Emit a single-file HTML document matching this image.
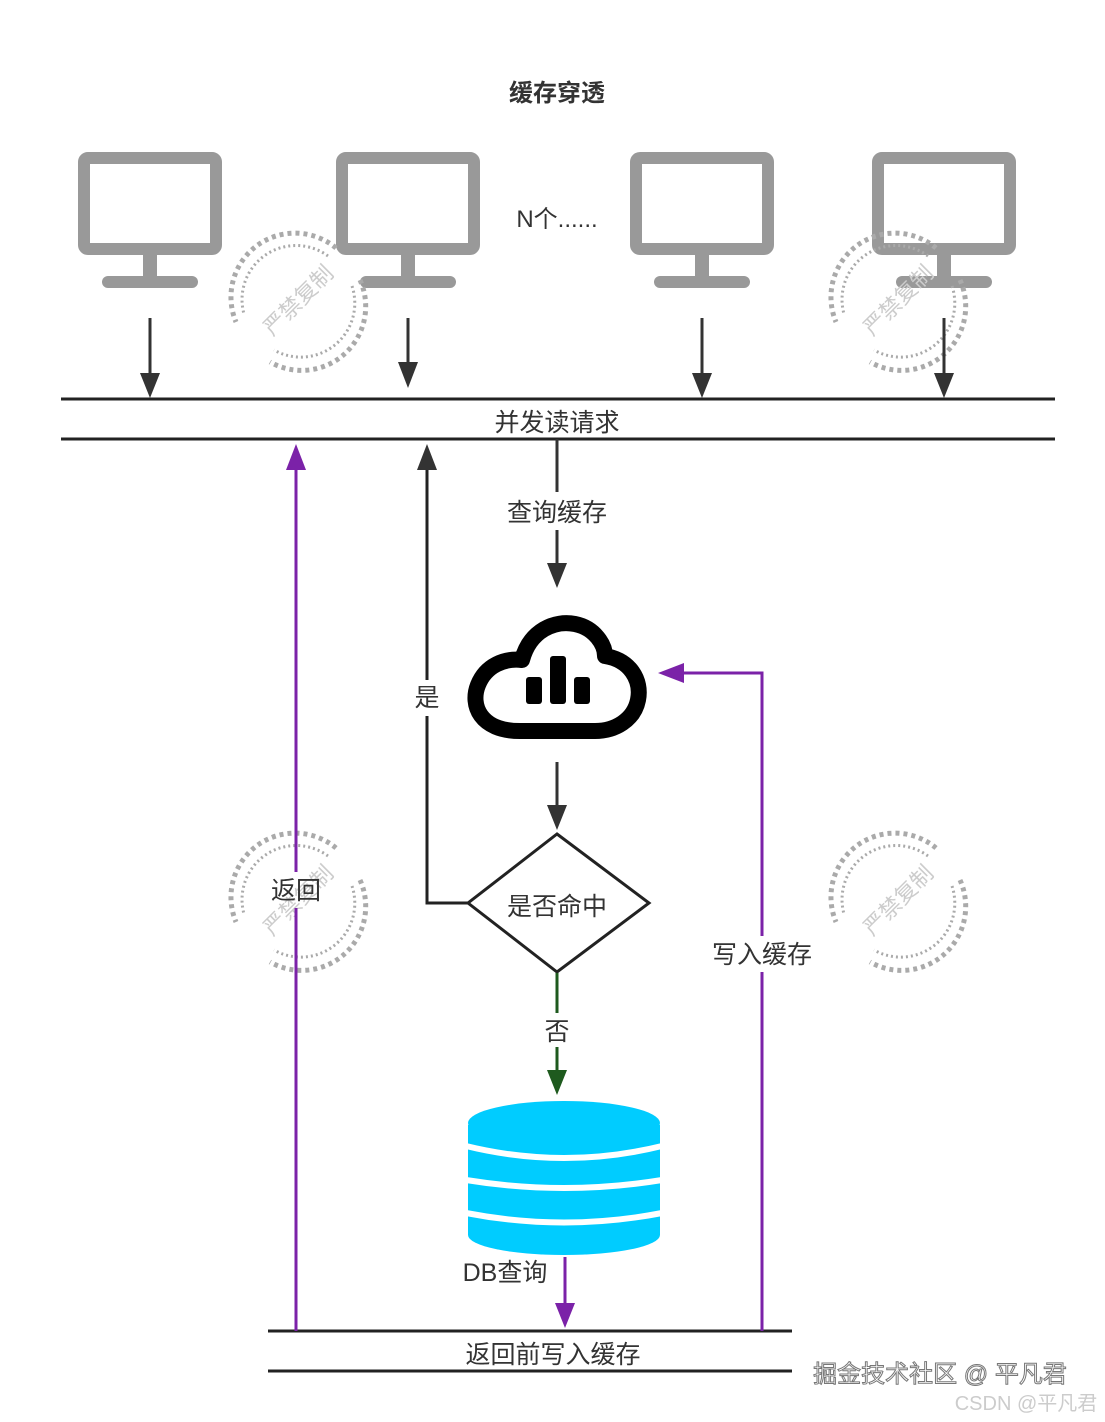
<!DOCTYPE html>
<html><head><meta charset="utf-8"><style>
html,body{margin:0;padding:0;background:#fff;}
svg{display:block;}
text{font-family:"Liberation Sans","Noto Sans CJK SC",sans-serif;}
</style></head><body>
<svg width="1105" height="1422" viewBox="0 0 1105 1422" xmlns="http://www.w3.org/2000/svg">
<defs>
<g id="mon">
<rect x="6" y="6" width="132" height="91" rx="4" fill="#fff" stroke="#999" stroke-width="12"/>
<rect x="65" y="103" width="14" height="24" fill="#999"/>
<rect x="24" y="124" width="96" height="12" rx="6" fill="#999"/>
</g>
<g id="wm" fill="none" stroke="#aaa">
<path d="M38,-52 A64,64 0 0,0 -62,22" stroke-width="5" stroke-dasharray="4 4"/>
<path d="M62,-20 A64,64 0 0,1 -28,62" stroke-width="5" stroke-dasharray="4 4"/>
<path d="M30,-44 A54,54 0 0,0 -54,14" stroke-width="3" stroke-dasharray="2 3"/>
<path d="M54,-14 A54,54 0 0,1 -24,50" stroke-width="3" stroke-dasharray="2 3"/>
<text x="0" y="8" transform="rotate(-45)" text-anchor="middle" font-size="22" fill="#ccc" stroke="none">严禁复制</text>
</g>
</defs>

<text x="557" y="101" text-anchor="middle" font-size="24" font-weight="bold" fill="#333">缓存穿透</text>

<use href="#mon" x="78" y="152"/>
<use href="#mon" x="336" y="152"/>
<use href="#mon" x="630" y="152"/>
<use href="#mon" x="872" y="152"/>
<text x="557" y="227" text-anchor="middle" font-size="24" fill="#333">N个......</text>

<use href="#wm" x="298" y="300"/>
<use href="#wm" x="898" y="300"/>
<use href="#wm" x="298" y="900"/>
<use href="#wm" x="898" y="900"/>

<g stroke="#333" stroke-width="3" fill="#333">
<line x1="150" y1="318" x2="150" y2="378"/><polygon points="140,373 160,373 150,398" stroke="none"/>
<line x1="408" y1="318" x2="408" y2="366"/><polygon points="398,362 418,362 408,388" stroke="none"/>
<line x1="702" y1="318" x2="702" y2="378"/><polygon points="692,373 712,373 702,398" stroke="none"/>
<line x1="944" y1="318" x2="944" y2="378"/><polygon points="934,373 954,373 944,398" stroke="none"/>
</g>
<line x1="61" y1="399" x2="1055" y2="399" stroke="#222" stroke-width="3"/>
<line x1="61" y1="439" x2="1055" y2="439" stroke="#222" stroke-width="3"/>
<text x="557" y="431" text-anchor="middle" font-size="25" fill="#333">并发读请求</text>

<line x1="557" y1="439" x2="557" y2="492" stroke="#333" stroke-width="3"/>
<line x1="557" y1="530" x2="557" y2="568" stroke="#333" stroke-width="3"/>
<polygon points="547,563 567,563 557,588" fill="#333"/>
<text x="557" y="521" text-anchor="middle" font-size="25" fill="#333">查询缓存</text>

<!-- cloud -->
<path d="M520,731 C480,731 470,705 478,685 C486,665 505,658 522,660 C530,630 555,620 575,624 C595,628 605,645 605,656 C630,660 642,680 638,700 C634,720 615,731 595,731 Z" fill="#fff" stroke="#000" stroke-width="16" stroke-linejoin="round"/>
<rect x="526" y="677" width="16" height="27" rx="3" fill="#000"/>
<rect x="550" y="656" width="16" height="48" rx="3" fill="#000"/>
<rect x="574" y="677" width="16" height="27" rx="3" fill="#000"/>

<line x1="557" y1="762" x2="557" y2="810" stroke="#333" stroke-width="3"/>
<polygon points="547,805 567,805 557,830" fill="#333"/>
<polygon points="557,834 649,903 557,972 468,903" fill="#fff" stroke="#222" stroke-width="3"/>
<text x="557" y="915" text-anchor="middle" font-size="25" fill="#333">是否命中</text>

<line x1="557" y1="973" x2="557" y2="1013" stroke="#1e5a1e" stroke-width="3"/>
<line x1="557" y1="1047" x2="557" y2="1075" stroke="#1e5a1e" stroke-width="3"/>
<polygon points="547,1070 567,1070 557,1095" fill="#1e5a1e"/>
<text x="557" y="1040" text-anchor="middle" font-size="25" fill="#333">否</text>

<!-- DB -->
<g fill="#00ccff">
<rect x="468" y="1125" width="192" height="110"/>
<ellipse cx="564" cy="1235" rx="96" ry="20"/>
<ellipse cx="564" cy="1123" rx="96" ry="22"/>
</g>
<g fill="none" stroke="#fff" stroke-width="6">
<path d="M466,1146 Q564,1170 662,1146"/>
<path d="M466,1180 Q564,1196 662,1180"/>
<path d="M466,1213 Q564,1232 662,1213"/>
</g>
<text x="505" y="1281" text-anchor="middle" font-size="25" fill="#333">DB查询</text>

<line x1="565" y1="1257" x2="565" y2="1308" stroke="#7b22a8" stroke-width="3"/>
<polygon points="555,1303 575,1303 565,1328" fill="#7b22a8"/>

<line x1="268" y1="1331" x2="792" y2="1331" stroke="#222" stroke-width="3"/>
<line x1="268" y1="1371" x2="792" y2="1371" stroke="#222" stroke-width="3"/>
<text x="553" y="1363" text-anchor="middle" font-size="25" fill="#333">返回前写入缓存</text>

<line x1="296" y1="1331" x2="296" y2="908" stroke="#7b22a8" stroke-width="3"/>
<line x1="296" y1="872" x2="296" y2="465" stroke="#7b22a8" stroke-width="3"/>
<polygon points="286,470 306,470 296,444" fill="#7b22a8"/>
<text x="296" y="899" text-anchor="middle" font-size="25" fill="#333">返回</text>

<polyline points="468,903 427,903 427,716" fill="none" stroke="#222" stroke-width="3"/>
<line x1="427" y1="680" x2="427" y2="465" stroke="#222" stroke-width="3"/>
<polygon points="417,470 437,470 427,444" fill="#333"/>
<text x="427" y="706" text-anchor="middle" font-size="25" fill="#333">是</text>

<polyline points="762,1331 762,972" fill="none" stroke="#7b22a8" stroke-width="3"/>
<polyline points="762,936 762,673 680,673" fill="none" stroke="#7b22a8" stroke-width="3"/>
<polygon points="684,663 684,683 658,673" fill="#7b22a8"/>
<text x="762" y="963" text-anchor="middle" font-size="25" fill="#333">写入缓存</text>

<text x="940" y="1382" text-anchor="middle" font-size="24" fill="#fff" stroke="#777" stroke-width="1">掘金技术社区 @ 平凡君</text>
<text x="1026" y="1410" text-anchor="middle" font-size="20" fill="#ccc">CSDN @平凡君</text>
</svg>
</body></html>
